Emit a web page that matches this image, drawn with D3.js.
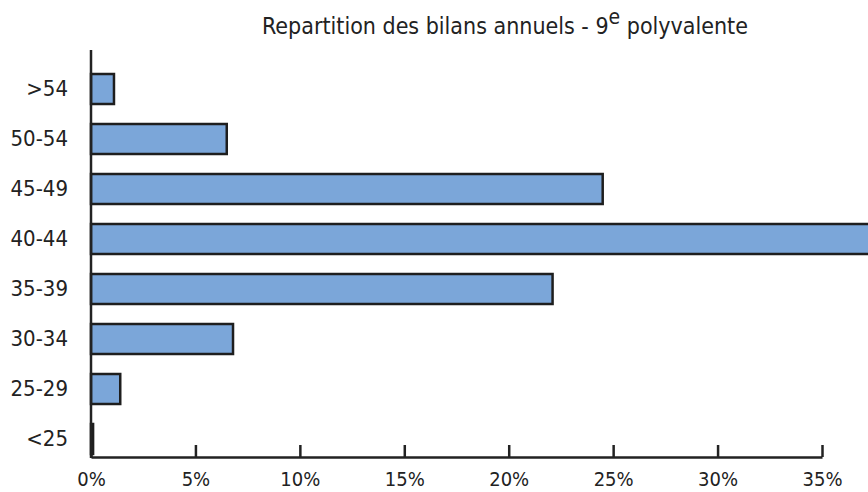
<!DOCTYPE html>
<html>
<head>
<meta charset="utf-8">
<script src="https://cdn.jsdelivr.net/npm/d3@7"></script>
<style>
  html, body { margin: 0; padding: 0; background: #fff; }
  svg { display: block; }
  text { font-family: "DejaVu Sans Condensed", "DejaVu Sans", sans-serif; font-stretch: condensed; fill: #222; }
</style>
</head>
<body>
<svg id="chart" width="868" height="492"></svg>
<script>
const categories = [">54", "50-54", "45-49", "40-44", "35-39", "30-34", "25-29", "<25"];
const percentages = [1.1, 6.5, 24.5, 38.0, 22.1, 6.8, 1.4, 0.1];
const tickValues = [0, 5, 10, 15, 20, 25, 30, 35];
const tickLabels = ["0%", "5%", "10%", "15%", "20%", "25%", "30%", "35%"];
const titleMain = "Repartition des bilans annuels - 9";
const titleSup = "e";
const titleEnd = " polyvalente";

const svg = d3.select("#chart");
const x = d3.scaleLinear().domain([0, 35]).range([91, 822]);
const y = d3.scaleBand().domain(categories).range([64, 464]).paddingInner(0.4).paddingOuter(0.2);
const axisY = 457;
const ink = "#222";
const font = '"DejaVu Sans Condensed", "DejaVu Sans", sans-serif';

// bars
svg.append("g").selectAll("rect")
  .data(categories.map((c, i) => ({c, v: percentages[i]})))
  .join("rect")
  .attr("x", x(0))
  .attr("y", d => y(d.c))
  .attr("width", d => x(d.v) - x(0))
  .attr("height", y.bandwidth())
  .attr("fill", "#7ba6d9")
  .attr("stroke", "#1e1e1e")
  .attr("stroke-width", 2.5);

// x axis
const xAxis = d3.axisBottom(x)
  .tickValues(tickValues)
  .tickFormat((d, i) => tickLabels[i])
  .tickSizeInner(-12)
  .tickSizeOuter(0)
  .tickPadding(15);
const gx = svg.append("g").attr("transform", `translate(0,${axisY})`).call(xAxis);
gx.select(".domain").attr("stroke", ink).attr("stroke-width", 2.5);
gx.selectAll(".tick line").attr("stroke", ink).attr("stroke-width", 2.5);
gx.selectAll(".tick text").attr("font-size", 20).attr("fill", ink).style("font-family", font);

// y axis
const yAxis = d3.axisLeft(y).tickSize(0).tickPadding(23);
const gy = svg.append("g").attr("transform", `translate(${x(0)},0)`).call(yAxis);
gy.select(".domain").remove();
gy.selectAll(".tick text").attr("font-size", 22).attr("fill", ink).style("font-family", font);
svg.append("line")
  .attr("x1", x(0)).attr("x2", x(0))
  .attr("y1", 50).attr("y2", axisY + 1)
  .attr("stroke", ink).attr("stroke-width", 2.5);

// title
const t = svg.append("text")
  .attr("x", 505).attr("y", 34)
  .attr("text-anchor", "middle")
  .attr("font-size", 23)
  .attr("fill", ink)
  .style("font-family", font);
t.append("tspan").text(titleMain);
t.append("tspan").attr("dy", -10).attr("font-size", 21).text(titleSup);
t.append("tspan").attr("dy", 10).text(titleEnd);
</script>
</body>
</html>
